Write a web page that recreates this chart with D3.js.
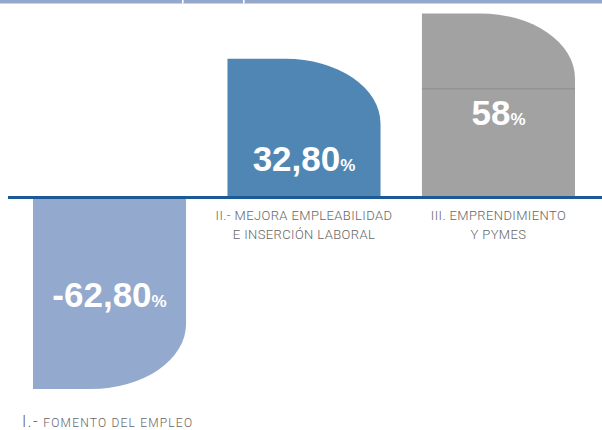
<!DOCTYPE html>
<html>
<head>
<meta charset="utf-8">
<script src="https://cdn.jsdelivr.net/npm/d3@7"></script>
<style>
  body { margin: 0; background: #fff; }
  svg { display: block; }
  .cat { font-family: Roboto, "Liberation Sans", sans-serif; font-weight: 300; fill: #666; }
  .val { font-family: "Liberation Sans", Arial, sans-serif; font-weight: bold; fill: #fff; }
</style>
</head>
<body>
<div id="chart"></div>
<script>
// Data
var categories = ["I", "II", "III"];
var values = [-62.80, 32.80, 58];
var valueLabels = ["-62,80", "32,80", "58"];
var labelLines = [
  ["II.- MEJORA EMPLEABILIDAD", "E INSERCIÓN LABORAL"],
  ["III. EMPRENDIMIENTO", "Y PYMES"]
];
var firstLabelLead = "I.-";
var firstLabelRest = " FOMENTO DEL EMPLEO";
var colors = ["#93a9cd", "#4f86b4", "#a2a2a3"];
var refValue = 20; // thin gray line drawn inside bar III

var svgWidth = 602;
var svgHeight = 430;

var svg = d3.select("#chart")
  .append("svg")
  .attr("width", svgWidth)
  .attr("height", svgHeight);

// top band (cut off header)
svg.append("rect")
  .attr("x", 0).attr("y", 0)
  .attr("width", svgWidth).attr("height", 3.5)
  .attr("fill", "#93a8cc");
[182, 243].forEach(function(x) {
  svg.append("rect")
    .attr("x", x).attr("y", 0)
    .attr("width", 1.6).attr("height", 3.5)
    .attr("fill", "#fff");
});

// scales
var xScale = d3.scaleBand()
  .domain(categories)
  .range([33, 575])
  .paddingInner(0.213);

var hScale = d3.scaleSqrt()
  .domain([0, 62.8])
  .range([0, 190]);

var zeroTop = 196;   // positive bars end here
var zeroBottom = 199; // negative bars start here
var rx = 95, ry = 65;

function barPath(d, i) {
  var x0 = xScale(categories[i]);
  var x1 = x0 + xScale.bandwidth();
  var h = hScale(Math.abs(d));
  if (d >= 0) {
    var top = zeroTop - h;
    return "M" + x0 + "," + zeroTop +
      "V" + top +
      "H" + (x1 - rx) +
      "A" + rx + "," + ry + " 0 0 1 " + x1 + "," + (top + ry) +
      "V" + zeroTop + "Z";
  } else {
    var bot = zeroBottom + h;
    return "M" + x0 + "," + zeroBottom +
      "H" + x1 +
      "V" + (bot - ry) +
      "A" + rx + "," + ry + " 0 0 1 " + (x1 - rx) + "," + bot +
      "H" + x0 + "Z";
  }
}

svg.selectAll("path.bar")
  .data(values)
  .enter()
  .append("path")
  .attr("class", "bar")
  .attr("d", barPath)
  .attr("fill", (d, i) => colors[i]);

// gray reference line inside bar III
svg.append("line")
  .attr("x1", xScale("III"))
  .attr("x2", xScale("III") + xScale.bandwidth())
  .attr("y1", zeroTop - hScale(refValue))
  .attr("y2", zeroTop - hScale(refValue))
  .attr("stroke", "#8e8e8e")
  .attr("stroke-width", 1);

// zero line
svg.append("line")
  .attr("x1", 8).attr("x2", svgWidth)
  .attr("y1", 197.5).attr("y2", 197.5)
  .attr("stroke", "#1c5a97")
  .attr("stroke-width", 2.8);

// value labels
var valText = svg.selectAll("text.val")
  .data(values)
  .enter()
  .append("text")
  .attr("class", "val")
  .attr("x", (d, i) => xScale(categories[i]) + xScale.bandwidth() / 2)
  .attr("y", d => (d >= 0 ? zeroTop - hScale(d) + 112 : zeroBottom + 108))
  .attr("text-anchor", "middle");

valText.append("tspan")
  .style("font-size", "35px")
  .text((d, i) => valueLabels[i]);
valText.append("tspan")
  .style("font-size", "17px")
  .text("%");

// category labels under bars II and III
labelLines.forEach(function(lines, j) {
  var cat = categories[j + 1];
  var cx = xScale(cat) + xScale.bandwidth() / 2;
  lines.forEach(function(line, k) {
    svg.append("text")
      .attr("class", "cat")
      .attr("x", cx)
      .attr("y", 219.5 + k * 19.5)
      .attr("text-anchor", "middle")
      .style("font-size", "13px")
      .style("letter-spacing", "0.4px")
      .text(line);
  });
});

// label for bar I at bottom left
var lab1 = svg.append("text")
  .attr("class", "cat")
  .attr("x", 22)
  .attr("y", 427);
lab1.append("tspan").style("font-size", "16px").style("letter-spacing", "1.5px").text(firstLabelLead);
lab1.append("tspan").style("font-size", "12px").style("letter-spacing", "1.2px").text(firstLabelRest);
</script>
</body>
</html>
